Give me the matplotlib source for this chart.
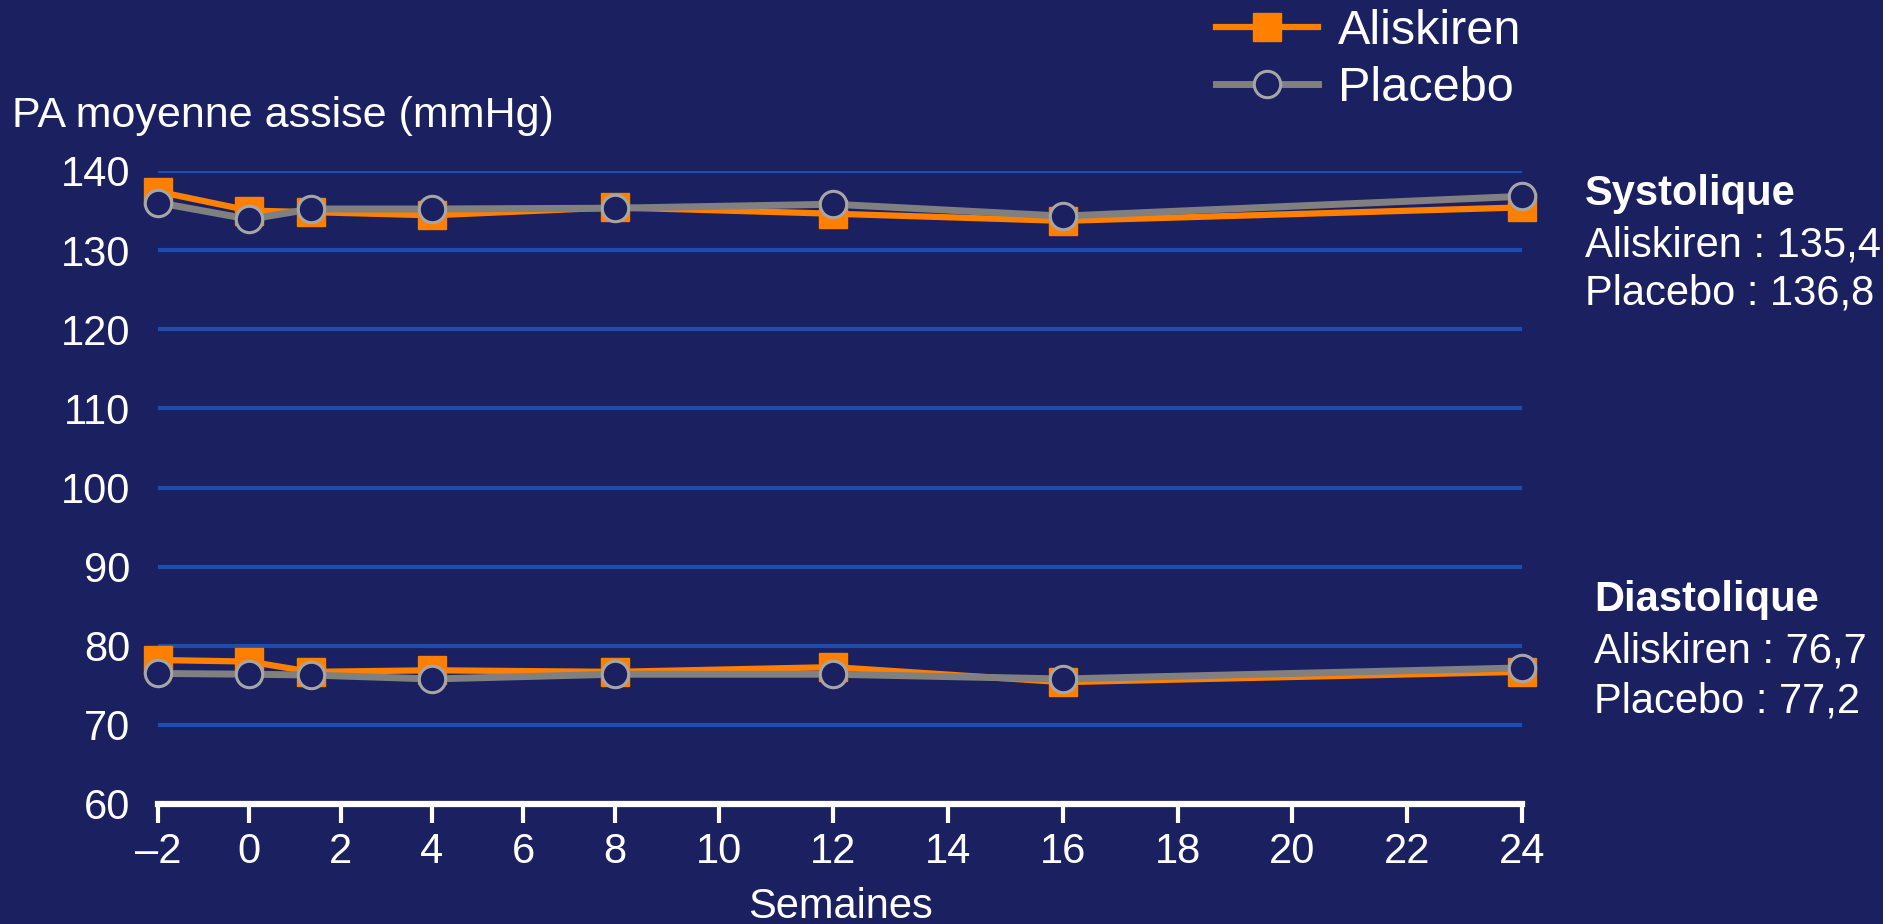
import numpy as np
import matplotlib
matplotlib.use("Agg")
import matplotlib.pyplot as plt
from matplotlib.patches import Rectangle

# weekly mean seated blood pressure (mmHg)
weeks = [-2, 0, 1.35, 4, 8, 12, 16, 24]
sys_aliskiren = [137.4, 135.0, 134.8, 134.4, 135.4, 134.6, 133.7, 135.4]
sys_placebo = [136.0, 133.9, 135.2, 135.2, 135.3, 135.8, 134.3, 136.8]
dia_aliskiren = [78.2, 78.0, 76.7, 76.9, 76.7, 77.3, 75.4, 76.7]
dia_placebo = [76.5, 76.4, 76.3, 75.8, 76.4, 76.4, 75.8, 77.2]

xticks = list(range(-2, 25, 2))
yticks = list(range(60, 141, 10))

navy = "#1a2060"
orange = "#ff8000"
grey = "#808080"
gridblue = "#1e4db0"

plt.rcParams["font.family"] = ["Liberation Sans", "DejaVu Sans"]

# the original x axis is stretched after week 8
k1, k2 = 52 / 45.6, 57.3 / 45.6


def fwd(x):
    x = np.asarray(x, float)
    return np.where(x <= 8, x, np.where(x <= 10, 8 + (x - 8) * k1, 8 + 2 * k1 + (x - 10) * k2))


def inv(u):
    u = np.asarray(u, float)
    return np.where(u <= 8, u, np.where(u <= 8 + 2 * k1, 8 + (u - 8) / k1, 10 + (u - 8 - 2 * k1) / k2))


fig = plt.figure(figsize=(19.03, 9.24), dpi=100, facecolor="white")
fig.patches.append(Rectangle((0, 0), 1883 / 1903, 1, transform=fig.transFigure,
                             facecolor=navy, edgecolor="none", zorder=-10))

ax = fig.add_axes([158 / 1903, 1 - 804 / 924, (1522 - 158) / 1903, (804 - 171) / 924])
ax.set_facecolor(navy)
ax.set_xscale("function", functions=(fwd, inv))
ax.set_xlim(-2, 24)
ax.set_ylim(60, 140)

for y in yticks[1:]:
    ax.axhline(y, color=gridblue, lw=3, zorder=1)

for s in ["top", "right", "left"]:
    ax.spines[s].set_visible(False)
ax.spines["bottom"].set_color("white")
ax.spines["bottom"].set_linewidth(4.5)
ax.spines["bottom"].set_zorder(5)

ax.set_xticks(xticks)
ax.set_xticklabels([str(t).replace("-", "\u2013") for t in xticks])
ax.set_yticks(yticks)
ax.tick_params(axis="x", colors="white", labelsize=30, length=14, width=3, pad=6)
ax.tick_params(axis="y", colors="white", labelsize=30, length=0, pad=20)
ax.xaxis.set_minor_locator(plt.NullLocator())

sq = dict(color=orange, lw=4.5, marker="s", markersize=20, clip_on=False, zorder=3)
ci = dict(color=grey, lw=5, marker="o", markersize=19, mfc=navy, mec="#a6a6a6",
          mew=2.2, clip_on=False, zorder=4)
ax.plot(weeks, sys_aliskiren, label="Aliskiren", **sq)
ax.plot(weeks, sys_placebo, label="Placebo", **ci)
ax.plot(weeks, dia_aliskiren, **sq)
ax.plot(weeks, dia_placebo, **ci)

ax.set_xlabel("Semaines", color="white", fontsize=30)
ax.xaxis.set_label_coords(0.5, -(918 - 804) / 633)
ax.xaxis.label.set_va("baseline")

fig.text(12 / 1903, 1 - 127 / 924, "PA moyenne assise (mmHg)", color="white",
         fontsize=31, va="baseline", ha="left")

leg = fig.legend(loc="upper left", bbox_to_anchor=(1216 / 1903, 1 - 9 / 924),
                 frameon=False, fontsize=35, labelcolor="white", handlelength=2.1,
                 handletextpad=0.4, labelspacing=0.25, borderpad=0, borderaxespad=0)

fig.text(1585 / 1903, 1 - 194 / 924, "Systolique", color="white", fontsize=30,
         fontweight="bold", va="center")
fig.text(1585 / 1903, 1 - 245 / 924, "Aliskiren : 135,4", color="white", fontsize=30, va="center")
fig.text(1585 / 1903, 1 - 294 / 924, "Placebo : 136,8", color="white", fontsize=30, va="center")
fig.text(1594 / 1903, 1 - 600 / 924, "Diastolique", color="white", fontsize=30,
         fontweight="bold", va="center")
fig.text(1594 / 1903, 1 - 651 / 924, "Aliskiren : 76,7", color="white", fontsize=30, va="center")
fig.text(1594 / 1903, 1 - 702 / 924, "Placebo : 77,2", color="white", fontsize=30, va="center")

fig.savefig("out.png", dpi=100, facecolor=fig.get_facecolor())
